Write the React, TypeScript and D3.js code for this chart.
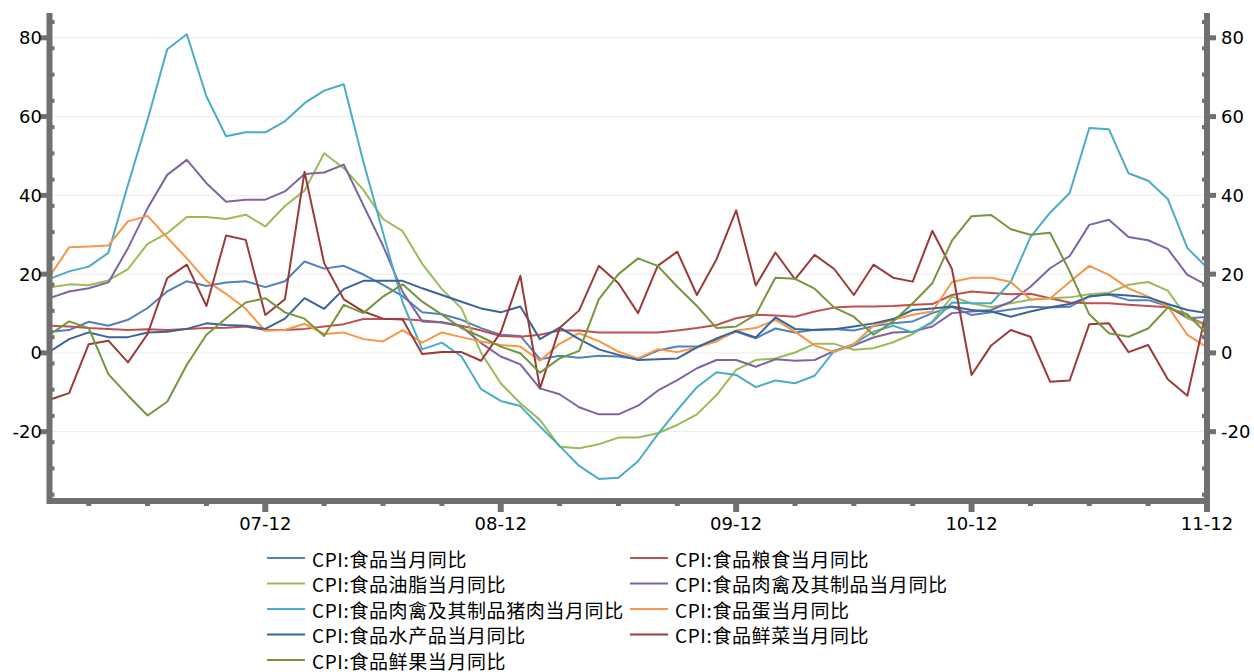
import React from "react";
import * as d3 from "d3";

const months: string[] = d3.range(60).map((i) => {
  const y = 7 + Math.floor(i / 12);
  const m = (i % 12) + 1;
  return `${String(y).padStart(2, "0")}-${String(m).padStart(2, "0")}`;
});

const xTickLabels = ["07-12", "08-12", "09-12", "10-12", "11-12"];
const yTickValues = [-20, 0, 20, 40, 60, 80];

const seriesNames = [
  "CPI:食品当月同比",
  "CPI:食品粮食当月同比",
  "CPI:食品油脂当月同比",
  "CPI:食品肉禽及其制品当月同比",
  "CPI:食品肉禽及其制品猪肉当月同比",
  "CPI:食品蛋当月同比",
  "CPI:食品水产品当月同比",
  "CPI:食品鲜菜当月同比",
  "CPI:食品鲜果当月同比",
];

const seriesColors = [
  "#4F81BD",
  "#C0504D",
  "#9BBB59",
  "#8064A2",
  "#4BACC6",
  "#F79646",
  "#3A6498",
  "#9B3B38",
  "#76953D",
];

const food = [
  5.4, 5.8, 7.9, 6.9, 8.4, 11.4, 15.6, 18.2, 17.0, 17.9, 18.2, 16.7,
  18.2, 23.2, 21.4, 22.1, 19.9, 17.3, 14.4, 10.3, 9.8, 8.4, 6.3, 4.6,
  4.3, -1.6, -0.7, -1.2, -0.7, -0.9, -1.6, 0.6, 1.6, 1.6, 3.3, 5.4,
  3.7, 6.2, 5.2, 5.9, 6.1, 5.7, 6.8, 7.5, 8.0, 10.1, 11.7, 9.6,
  10.3, 11.0, 11.7, 11.5, 11.7, 14.4, 14.8, 13.4, 13.4, 11.9, 8.8, 9.1,
];

const grain = [
  6.9, 6.7, 6.3, 6.1, 5.8, 6.0, 5.8, 6.1, 6.3, 6.4, 6.7, 5.8,
  5.8, 6.1, 6.7, 7.3, 8.6, 8.6, 8.6, 8.2, 7.8, 6.9, 5.7, 4.3,
  4.1, 4.6, 5.7, 5.7, 5.2, 5.2, 5.2, 5.2, 5.7, 6.3, 7.1, 8.8,
  9.7, 9.5, 9.2, 10.5, 11.5, 11.8, 11.8, 11.9, 12.2, 12.4, 14.7, 15.6,
  15.2, 14.9, 15.0, 13.9, 12.8, 12.6, 12.6, 12.2, 11.9, 11.6, 9.2, 7.1,
];

const oil = [
  16.6, 17.4, 17.2, 18.4, 21.3, 27.7, 30.4, 34.5, 34.5, 34.0, 35.1, 32.1,
  37.3, 41.2, 50.7, 46.9, 41.4, 34.0, 30.9, 22.6, 16.2, 11.3, 0.0, -7.7,
  -12.8, -17.0, -23.8, -24.2, -23.2, -21.5, -21.5, -20.4, -18.3, -15.6, -10.7, -4.3,
  -1.8, -1.4, 0.1, 2.3, 2.3, 0.8, 1.2, 2.7, 4.8, 8.0, 14.3, 12.6,
  11.6, 12.6, 13.5, 13.9, 14.1, 14.9, 15.3, 17.3, 18.0, 15.8, 8.8, 6.9,
];

const meat = [
  13.9, 15.6, 16.4, 17.9, 26.6, 36.7, 45.2, 49.0, 43.1, 38.4, 38.9, 38.9,
  41.0, 45.4, 45.8, 47.8, 37.5, 27.2, 15.5, 8.0, 7.7, 6.7, 2.5, -0.9,
  -2.9, -9.0, -10.5, -13.8, -15.6, -15.6, -13.4, -9.6, -6.9, -3.9, -1.8, -1.8,
  -3.5, -1.6, -2.0, -1.8, 0.5, 1.9, 3.9, 5.2, 5.4, 6.7, 10.1, 10.5,
  10.9, 13.0, 16.8, 21.5, 24.6, 32.5, 33.8, 29.4, 28.6, 26.4, 19.8, 17.2,
];

const pork = [
  18.8, 20.7, 21.9, 25.4, 42.7, 59.2, 77.1, 80.9, 65.1, 55.0, 56.0, 56.0,
  58.8, 63.4, 66.6, 68.2, 48.5, 30.5, 12.8, 0.9, 2.6, -0.9, -9.2, -12.2,
  -13.5, -18.7, -23.6, -28.7, -32.0, -31.7, -27.5, -20.7, -14.5, -8.7, -4.9, -5.6,
  -8.7, -7.0, -7.7, -5.8, 0.5, 2.3, 5.4, 6.9, 5.2, 7.7, 12.8, 12.6,
  12.6, 18.0, 29.4, 35.6, 40.6, 57.1, 56.8, 45.6, 43.7, 39.1, 26.6, 21.7,
];

const egg = [
  19.4, 26.8, 27.0, 27.3, 33.4, 34.8, 29.3, 24.0, 18.3, 15.0, 11.2, 5.6,
  5.8, 7.4, 4.8, 5.2, 3.5, 2.9, 5.8, 2.6, 5.2, 4.0, 2.9, 2.0,
  1.6, -2.0, 2.3, 5.0, 3.0, 0.3, -1.4, 0.9, 0.2, 1.4, 2.9, 5.7,
  6.3, 8.4, 5.4, 1.9, 0.2, 2.2, 6.9, 8.4, 9.7, 10.5, 18.0, 19.1,
  19.1, 18.0, 13.6, 13.8, 18.0, 22.1, 19.8, 16.4, 14.3, 11.8, 4.6, 1.4,
];

const aquatic = [
  0.3, 3.5, 5.2, 4.0, 4.0, 5.2, 5.4, 6.1, 7.5, 7.1, 6.9, 6.1,
  8.7, 13.9, 11.2, 16.2, 18.3, 18.3, 18.3, 16.4, 14.7, 13.0, 11.3, 10.3,
  11.8, 3.5, 6.4, 3.5, 0.9, -0.5, -1.8, -1.6, -1.4, 1.4, 3.7, 5.6,
  3.9, 9.0, 6.1, 5.8, 6.0, 6.7, 7.5, 8.6, 10.9, 11.3, 11.8, 10.9,
  10.5, 9.2, 10.5, 11.6, 12.4, 14.3, 14.9, 14.6, 14.1, 12.4, 10.9, 10.1,
];

const vegetables = [
  -11.9, -10.2, 2.2, 3.1, -2.4, 4.8, 19.0, 22.4, 11.9, 29.8, 28.7, 9.6,
  13.6, 46.0, 22.8, 13.6, 10.5, 8.7, 8.5, -0.3, 0.2, 0.2, -2.0, 5.2,
  19.6, -9.0, 6.3, 10.8, 22.1, 17.7, 10.1, 22.1, 25.7, 14.7, 23.8, 36.2,
  17.1, 25.5, 18.7, 24.9, 21.3, 14.7, 22.4, 19.1, 18.1, 31.0, 21.3, -5.6,
  1.9, 5.8, 4.1, -7.3, -7.0, 7.3, 7.5, 0.2, 2.0, -6.7, -10.9, 11.3,
];

const fruit = [
  4.6, 8.0, 6.3, -5.4, -10.8, -15.9, -12.4, -3.0, 4.6, 8.8, 12.8, 13.9,
  10.3, 8.7, 4.3, 12.2, 10.1, 14.3, 17.4, 13.0, 9.7, 6.3, 4.1, 1.6,
  -0.1, -5.0, -1.4, 0.5, 13.6, 20.0, 24.0, 22.1, 16.8, 11.9, 6.3, 6.7,
  9.7, 19.1, 18.8, 16.3, 11.5, 9.2, 4.6, 8.0, 12.6, 17.7, 28.5, 34.7,
  35.0, 31.4, 30.0, 30.5, 20.7, 9.8, 5.0, 4.1, 6.2, 11.5, 9.8, 4.8,
];

const seriesValues = [food, grain, oil, meat, pork, egg, aquatic, vegetables, fruit];

const W = 1254;
const H = 672;
const AXIS = "#707070";
const TICK_FONT = "'DejaVu Sans', Verdana, sans-serif";
const LEGEND_FONT = "'Noto Sans CJK SC', 'Noto Sans', sans-serif";

export default function App() {
  const x = d3.scaleLinear().domain([0, months.length - 1]).range([49.5, 1207]);
  const y = d3.scaleLinear().domain([-37.6, 86.3]).range([501, 13]);

  const line = d3
    .line<number>()
    .x((_, i) => x(i))
    .y((d) => y(d));

  const majorX = months
    .map((m, i) => ({ m, i }))
    .filter((d) => d.m.endsWith("-12"));
  const minorX = months
    .map((m, i) => ({ m, i }))
    .filter((d) => (d.i + 1) % 3 === 0 && !d.m.endsWith("-12"));

  const minorY = d3
    .range(-36, 86, 20 / 3)
    .map((v) => Math.round(v * 100) / 100)
    .filter((v) => !yTickValues.some((t) => Math.abs(t - v) < 0.5))
    .filter((v) => v > -37 && v < 86);

  const x0 = x(0);
  const x1 = x(months.length - 1);
  const yTop = y.range()[1];
  const yBot = y.range()[0];

  const legendCols = [267, 630];
  const legendRow0 = 558;
  const legendRowStep = 25.5;

  return (
    <svg
      width={W}
      height={H}
      style={{ position: "absolute", left: 0, top: 0, background: "#fff" }}
    >
      {/* grid */}
      {yTickValues.map((v) => (
        <line
          key={"g" + v}
          x1={x0}
          x2={x1}
          y1={y(v)}
          y2={y(v)}
          stroke="#EBEBEB"
          strokeWidth={1}
        />
      ))}

      {/* series */}
      {seriesValues.map((vals, k) => (
        <path
          key={"s" + k}
          d={line(vals) || ""}
          fill="none"
          stroke={seriesColors[k]}
          strokeWidth={2}
          strokeLinejoin="round"
        />
      ))}

      {/* axes */}
      <path
        d={`M${x0},${yTop} L${x0},${yBot} L${x1},${yBot} L${x1},${yTop}`}
        fill="none"
        stroke={AXIS}
        strokeWidth={6}
        strokeLinejoin="miter"
      />
      {majorX.map((d) => (
        <rect
          key={"mx" + d.i}
          x={x(d.i) - 3}
          y={yBot}
          width={6}
          height={11}
          fill={AXIS}
        />
      ))}
      {minorX.map((d) => (
        <rect
          key={"nx" + d.i}
          x={x(d.i) - 2.5}
          y={yBot}
          width={5}
          height={5}
          fill={AXIS}
        />
      ))}
      {yTickValues.map((v) => (
        <g key={"ty" + v}>
          <rect x={x0 - 9} y={y(v) - 2.5} width={9} height={5} fill={AXIS} />
          <rect x={x1} y={y(v) - 2.5} width={9} height={5} fill={AXIS} />
        </g>
      ))}
      {minorY.map((v) => (
        <g key={"my" + v}>
          <rect x={x0} y={y(v) - 2} width={5} height={4} fill={AXIS} />
          <rect x={x1 - 5} y={y(v) - 2} width={5} height={4} fill={AXIS} />
        </g>
      ))}

      {/* tick labels */}
      {yTickValues.map((v) => (
        <g key={"ly" + v} fontFamily={TICK_FONT} fontSize={18} fill="#000">
          <text x={42} y={y(v)} textAnchor="end" dominantBaseline="central">
            {v}
          </text>
          <text x={1221} y={y(v)} textAnchor="start" dominantBaseline="central">
            {v}
          </text>
        </g>
      ))}
      {majorX.map((d, k) => (
        <text
          key={"lx" + d.i}
          x={x(d.i)}
          y={523}
          textAnchor="middle"
          dominantBaseline="central"
          fontFamily={TICK_FONT}
          fontSize={18}
          fill="#000"
        >
          {xTickLabels[k]}
        </text>
      ))}

      {/* legend */}
      {seriesNames.map((name, k) => {
        const col = k % 2;
        const row = Math.floor(k / 2);
        const lx = legendCols[col];
        const ly = legendRow0 + row * legendRowStep;
        return (
          <g key={"lg" + k}>
            <line
              x1={lx}
              x2={lx + 38}
              y1={ly}
              y2={ly}
              stroke={seriesColors[k]}
              strokeWidth={2}
            />
            <text
              x={lx + 45}
              y={ly}
              dominantBaseline="central"
              fontFamily={LEGEND_FONT}
              fontSize={19}
              letterSpacing={0.6}
              fill="#000"
            >
              {name}
            </text>
          </g>
        );
      })}
    </svg>
  );
}
